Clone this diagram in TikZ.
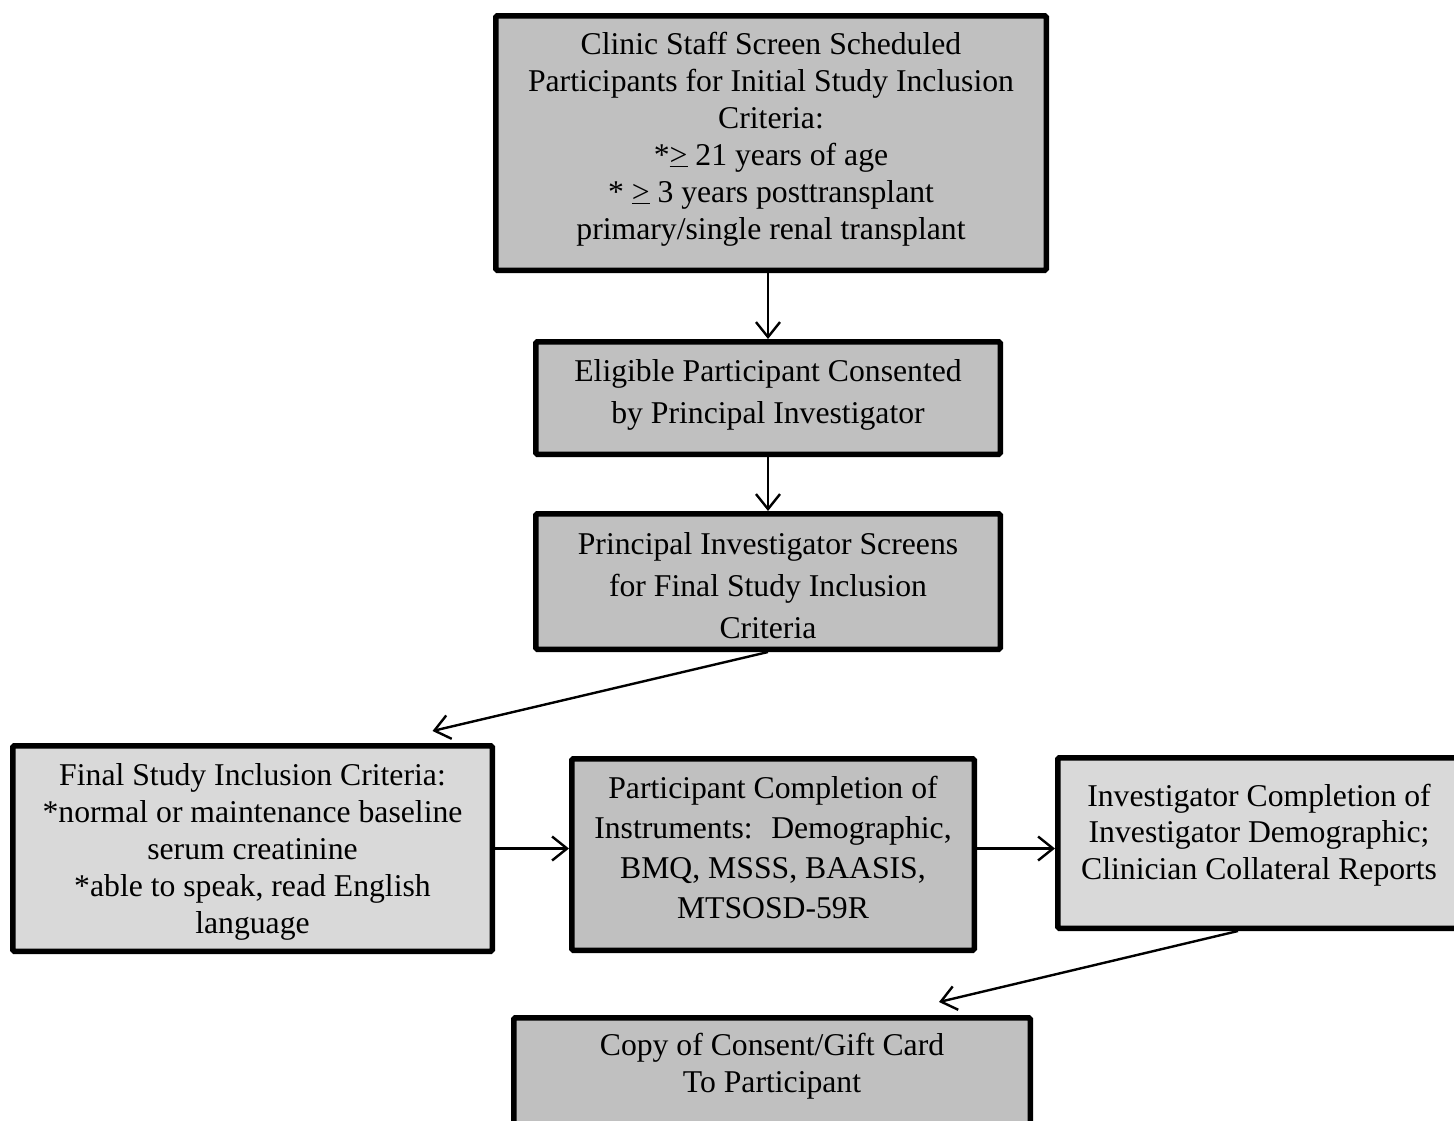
\documentclass[tikz,border=0pt]{standalone}
\usepackage{fontspec}
\setmainfont{Liberation Serif}
\usetikzlibrary{arrows.meta}
\definecolor{boxdark}{HTML}{C0C0C0}
\definecolor{boxlight}{HTML}{D9D9D9}
\begin{document}
\begin{tikzpicture}[x=1pt,y=-1pt,
  box/.style={draw=black, line width=5.5pt, rounded corners=1.5pt, rectangle, inner sep=0pt},
  dark/.style={box, fill=boxdark},
  light/.style={box, fill=boxlight},
  txt/.style={align=center, anchor=base, inner sep=0pt, font=\fontsize{31.7}{37}\selectfont},
  conn/.style={line width=2.4pt, -{Straight Barb[length=15pt,width=24pt,line width=2.4pt]}}
]
\path[use as bounding box, clip] (0,0) rectangle (1454,1120);
\fill[white] (0,0) rectangle (1454,1120);

\node[dark, minimum width=550.5pt, minimum height=254.5pt] (b1) at (771,143) {};
\node[dark, minimum width=464.5pt, minimum height=112.5pt] (b2) at (768,398) {};
\node[dark, minimum width=464.5pt, minimum height=135.5pt] (b3) at (768,581.5) {};
\node[light, minimum width=479.5pt, minimum height=205.5pt] (b4) at (252.5,848.5) {};
\node[dark, minimum width=402.5pt, minimum height=191.5pt] (b5) at (773,854.5) {};
\node[light, minimum width=402.5pt, minimum height=170.5pt] (b6) at (1259,843) {};
\node[dark, minimum width=516.5pt, minimum height=139.5pt] (b7) at (772,1087.5) {};

\node[txt] (t1) at (771,239) {Clinic Staff Screen Scheduled\\Participants for Initial Study Inclusion\\Criteria:\\*\underline{>} 21 years of age\\* \underline{>} 3 years posttransplant\\primary/single renal transplant};
\node[txt, font=\fontsize{31.7}{42}\selectfont] (t2) at (768,423) {Eligible Participant Consented\\by Principal Investigator};
\node[txt, font=\fontsize{31.7}{42}\selectfont] (t3) at (768,638) {Principal Investigator Screens\\for Final Study Inclusion\\Criteria};
\node[txt] (t4) at (252.5,933) {Final Study Inclusion Criteria:\\*normal or maintenance baseline\\serum creatinine\\*able to speak, read English\\language};
\node[txt, font=\fontsize{31.7}{39.7}\selectfont] (t5) at (773,918) {Participant Completion of\\Instruments:~ Demographic,\\BMQ, MSSS, BAASIS,\\MTSOSD-59R};
\node[txt, font=\fontsize{31.7}{36.5}\selectfont] (t6) at (1259,879) {Investigator Completion of\\Investigator Demographic;\\Clinician Collateral Reports};
\node[txt] (t7) at (772,1092) {Copy of Consent/Gift Card\\To Participant};

\draw[conn] (b2.north |- b1.south) -- (b2.north);
\draw[conn] (b2.south) -- (b3.north);
\draw[conn] (b3.south) -- ([xshift=180pt,yshift=12pt]b4.north);
\draw[conn] (b4.east) -- (b4.east -| b5.west);
\draw[conn] (b4.east -| b5.east) -- (b4.east -| b6.west);
\draw[conn] ([xshift=-21pt]b6.south) -- ([xshift=167pt,yshift=13pt]b7.north);
\end{tikzpicture}
\end{document}
